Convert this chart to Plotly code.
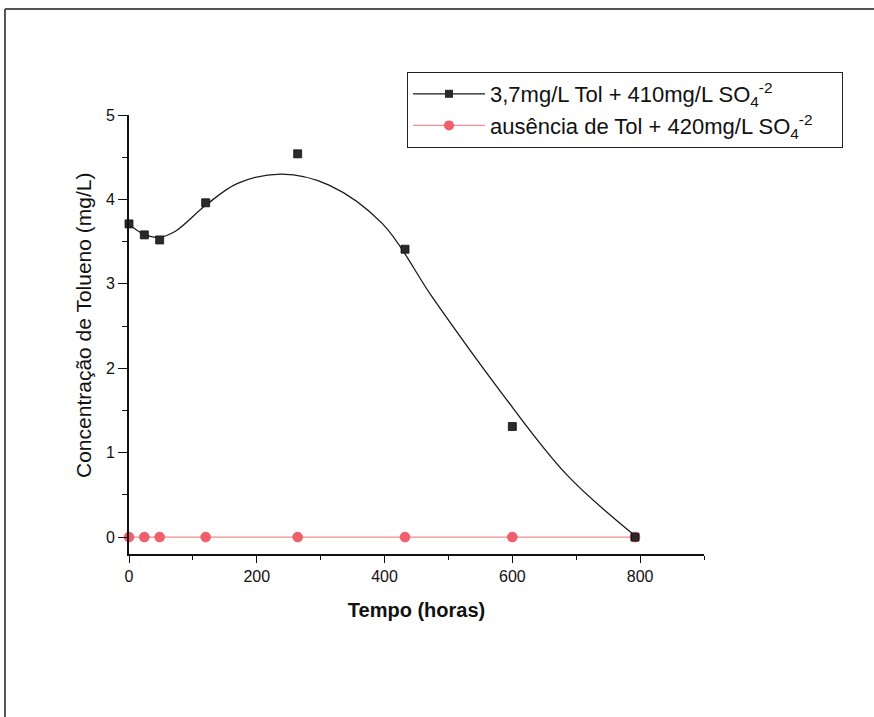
import plotly.graph_objects as go

# Data
tempo = [0, 24, 48, 120, 264, 432, 600, 792]
tol_conc = [3.71, 3.58, 3.52, 3.96, 4.54, 3.41, 1.31, 0.0]
sem_tol_conc = [0, 0, 0, 0, 0, 0, 0, 0]

# Smoothed fit curve
fit_x = [0, 20, 46, 72, 120, 170, 239, 313, 397, 475, 581, 685, 793]
fit_y = [3.71, 3.60, 3.55, 3.62, 3.93, 4.19, 4.30, 4.17, 3.71, 2.84, 1.73, 0.74, 0.01]

name1 = "3,7mg/L Tol + 410mg/L SO<sub>4</sub><sup>-2</sup>"
name2 = "ausência de Tol + 420mg/L SO<sub>4</sub><sup>-2</sup>\u00a0\u00a0\u00a0\u00a0"
x_title = "<b>Tempo (horas)</b>"
y_title = "Concentração de Tolueno (mg/L)"

FONT = "Liberation Sans, Arial, sans-serif"

fig = go.Figure()

# red series (absence of toluene)
fig.add_trace(go.Scatter(
    x=tempo, y=sem_tol_conc, mode="lines+markers", name=name2,
    line=dict(color="#f28c8c", width=1.2),
    marker=dict(symbol="circle", size=10, color="#f0606c",
                line=dict(color="#e8505c", width=0.5)),
    showlegend=False, cliponaxis=False))

# fit curve
fig.add_trace(go.Scatter(
    x=fit_x, y=fit_y, mode="lines", line=dict(color="#1a1a1a", width=1.3,
                                              shape="spline", smoothing=1.0),
    showlegend=False, hoverinfo="skip", cliponaxis=False))

# black squares
fig.add_trace(go.Scatter(
    x=tempo, y=tol_conc, mode="markers", name=name1,
    marker=dict(symbol="square", size=8, color="#2a2a2a",
                line=dict(color="#111111", width=0.8)),
    showlegend=False, cliponaxis=False))

# legend entries
fig.add_trace(go.Scatter(
    x=[None], y=[None], mode="lines+markers", name=name1, legendgroup="a",
    line=dict(color="#1a1a1a", width=1.2),
    marker=dict(symbol="square", size=8, color="#2a2a2a")))
fig.add_trace(go.Scatter(
    x=[None], y=[None], mode="lines+markers", name=name2, legendgroup="b",
    line=dict(color="#f28c8c", width=1.2),
    marker=dict(symbol="circle", size=10, color="#f0606c")))

L, R, T, B = 129, 704, 115, 554
W, H = 874, 717

def px(xp):
    return (xp - L) / (R - L)

def py(yp):
    return (B - yp) / (B - T)

fig.update_layout(
    width=W, height=H,
    margin=dict(l=L, r=W - R, t=T, b=H - B, pad=0),
    paper_bgcolor="white", plot_bgcolor="white",
    font=dict(family=FONT, color="#111111", size=16),
    legend=dict(
        x=px(407), y=py(72), xanchor="left", yanchor="top",
        bordercolor="#222222", borderwidth=1, bgcolor="white",
        font=dict(family=FONT, size=22, color="#111111"),
        itemwidth=72, tracegroupgap=0),
    xaxis=dict(
        range=[0, 900], showgrid=False, zeroline=False,
        showline=True, linecolor="#111111", linewidth=1.6,
        ticks="outside", ticklen=7, tickwidth=1.3, tickcolor="#111111",
        tickvals=[0, 200, 400, 600, 800],
        minor=dict(tickvals=[100, 300, 500, 700, 900], ticks="outside",
                   ticklen=4, tickwidth=1.3, tickcolor="#111111"),
        tickfont=dict(size=16),
        title=dict(text=x_title, font=dict(size=20), standoff=19)),
    yaxis=dict(
        range=[-0.2, 5], showgrid=False, zeroline=False,
        showline=True, linecolor="#111111", linewidth=1.6,
        ticks="outside", ticklen=9, tickwidth=1.3, tickcolor="#111111",
        tickvals=[0, 1, 2, 3, 4, 5],
        minor=dict(tickvals=[0.5, 1.5, 2.5, 3.5, 4.5], ticks="outside",
                   ticklen=5, tickwidth=1.3, tickcolor="#111111"),
        tickfont=dict(size=16)),
    annotations=[
        dict(text=y_title, xref="paper", yref="paper",
             x=px(83), y=py(326), xanchor="center", yanchor="middle",
             textangle=-90, showarrow=False,
             font=dict(family=FONT, size=21, color="#111111")),
    ],
    shapes=[
        dict(type="line", xref="paper", yref="paper",
             x0=px(5), x1=px(874), y0=py(9), y1=py(9),
             line=dict(color="#555555", width=2)),
        dict(type="line", xref="paper", yref="paper",
             x0=px(5), x1=px(5), y0=py(9), y1=py(717),
             line=dict(color="#555555", width=2)),
    ],
)

fig.write_html("out.html")
